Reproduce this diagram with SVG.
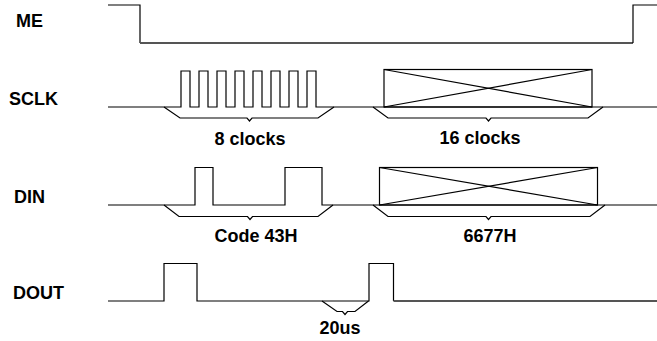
<svg xmlns="http://www.w3.org/2000/svg" width="657" height="341" viewBox="0 0 657 341">
<style>
.w{fill:none;stroke:#000;stroke-width:1.2}
.g{fill:none;stroke:#555;stroke-width:1.8}
.t{font-family:"Liberation Sans",Arial,sans-serif;font-weight:bold;font-size:18px;fill:#000}
.c{text-anchor:middle}
</style>
<rect width="657" height="341" fill="#fff"/>
<g id="labels">
<text class="t" x="16" y="27">ME</text>
<text class="t" x="9" y="105">SCLK</text>
<text class="t" x="14" y="203">DIN</text>
<text class="t" x="13" y="299">DOUT</text>
</g>
<g id="connectors">
<g id="ME">
<polyline class="w" points="108,5 140,5 140,43"/>
<line class="g" x1="140" y1="43" x2="633" y2="43"/>
<polyline class="w" points="633,43 633,5 657,5"/>
</g>
<g id="SCLK">
<polyline class="w" points="108,107 181,107 181,71 190,71 190,107 199,107 199,71 208,71 208,107 217,107 217,71 226,71 226,107 235,107 235,71 244,71 244,107 253,107 253,71 262,71 262,107 271,107 271,71 280,71 280,107 289,107 289,71 298,71 298,107 307,107 307,71 316,71 316,107 657,107"/>
<rect class="w" x="384" y="69.5" width="208" height="37.5"/>
<line class="w" x1="384" y1="69.5" x2="592" y2="107"/>
<line class="w" x1="384" y1="107" x2="592" y2="69.5"/>
<polyline class="w" points="164,107 180,118 247,118 249.5,121 252,118 318,118 334,107"/>
<polyline class="w" points="373,107 388,118 486,118 488.5,121 491,118 588,118 603,107"/>
</g>
<g id="DIN">
<polyline class="w" points="108,205 195,205 195,167.5 213,167.5 213,205 285,205 285,167.5 322,167.5 322,205 657,205"/>
<rect class="w" x="379.5" y="167.5" width="218" height="37.5"/>
<line class="w" x1="379.5" y1="167.5" x2="597.5" y2="205"/>
<line class="w" x1="379.5" y1="205" x2="597.5" y2="167.5"/>
<polyline class="w" points="164,205 179,216.5 247.5,216.5 250,219.5 252.5,216.5 318,216.5 333,205"/>
<polyline class="w" points="373,205 388,216.5 486,216.5 488.5,219.5 491,216.5 590,216.5 605,205"/>
</g>
<g id="DOUT">
<polyline class="w" points="108,301 164,301 164,263.5 197,263.5 197,301 369,301 369,263.5 393.5,263.5 393.5,301"/>
<line class="g" x1="393.5" y1="301" x2="657" y2="301"/>
<polyline class="w" points="322,301 337,311.5 342.5,311.5 345,314.5 347.5,311.5 355,311.5 368.5,301"/>
</g>
</g>
<g id="annotations">
<text class="t c" x="250" y="145">8 clocks</text>
<text class="t c" x="480" y="144">16 clocks</text>
<text class="t c" x="256" y="242">Code 43H</text>
<text class="t c" x="490" y="242">6677H</text>
<text class="t c" x="340" y="334">20us</text>
</g>
</svg>
